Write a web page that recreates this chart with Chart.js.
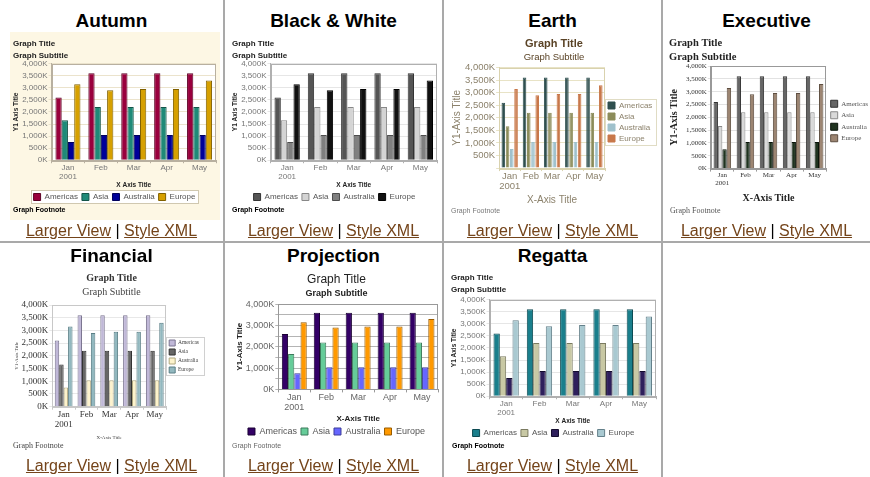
<!DOCTYPE html>
<html>
<head>
<meta charset="utf-8">
<script src="https://cdn.jsdelivr.net/npm/chart.js@4.4.0/dist/chart.umd.min.js"></script>
<style>
  body { margin: 0; width: 870px; height: 477px; background: #fff; position: relative; overflow: hidden;
         font-family: "Liberation Sans", Arial, sans-serif; }
  .head { position: absolute; text-align: center; font-weight: bold; font-size: 19px; color: #000; }
  .links { position: absolute; text-align: center; font-size: 16px; color: #000; white-space: nowrap; }
  .links a { color: #74441a; text-decoration: underline; }
  .foot { position: absolute; font-size: 7px; white-space: nowrap; }
  .box { position: absolute; }
  canvas { position: absolute; }
  .vl, .hl { position: absolute; background: #a9a9a9; }
</style>
</head>
<body>

<div class="hl" style="left:0;top:241px;width:870px;height:2px"></div>
<div class="vl" style="left:223px;top:0;width:2px;height:477px"></div>
<div class="vl" style="left:442px;top:0;width:2px;height:477px"></div>
<div class="vl" style="left:661px;top:0;width:2px;height:477px"></div>

<!-- Autumn -->
<div class="box" style="left:10px;top:32px;width:210px;height:188px;background:#fdf7e4"></div>
<div class="head" style="left:0;top:10px;width:223px">Autumn</div>
<canvas id="autumn" width="210" height="176" style="left:10px;top:35px"></canvas>
<div class="foot" style="left:13px;top:206px;font-weight:bold">Graph Footnote</div>
<div class="links" style="left:0;top:222px;width:223px"><a>Larger View</a> | <a>Style XML</a></div>

<!-- Black & White -->
<div class="head" style="left:225px;top:10px;width:217px">Black &amp; White</div>
<canvas id="bw" width="212" height="176" style="left:229px;top:35px"></canvas>
<div class="foot" style="left:232px;top:206px;font-weight:bold">Graph Footnote</div>
<div class="links" style="left:225px;top:222px;width:217px"><a>Larger View</a> | <a>Style XML</a></div>

<!-- Earth -->
<div class="head" style="left:444px;top:10px;width:217px">Earth</div>
<canvas id="earth" width="213" height="171" style="left:447px;top:35px"></canvas>
<div class="foot" style="left:451px;top:207px;color:#777">Graph Footnote</div>
<div class="links" style="left:444px;top:222px;width:217px"><a>Larger View</a> | <a>Style XML</a></div>

<!-- Executive -->
<div class="head" style="left:663px;top:10px;width:207px">Executive</div>
<canvas id="executive" width="212" height="171" style="left:666px;top:35px"></canvas>
<div class="foot" style="left:670px;top:206px;font-size:8px;color:#555;font-family:'Liberation Serif',serif">Graph Footnote</div>
<div class="links" style="left:663px;top:222px;width:207px"><a>Larger View</a> | <a>Style XML</a></div>

<!-- Financial -->
<div class="head" style="left:0;top:245px;width:223px">Financial</div>
<canvas id="financial" width="206" height="169" style="left:6px;top:271px"></canvas>
<div class="foot" style="left:13px;top:441px;font-size:8px;color:#444;font-family:'Liberation Serif',serif">Graph Footnote</div>
<div class="links" style="left:0;top:457px;width:223px"><a>Larger View</a> | <a>Style XML</a></div>

<!-- Projection -->
<div class="head" style="left:225px;top:245px;width:217px">Projection</div>
<canvas id="projection" width="214" height="175" style="left:228px;top:271px"></canvas>
<div class="foot" style="left:232px;top:442px;color:#666">Graph Footnote</div>
<div class="links" style="left:225px;top:457px;width:217px"><a>Larger View</a> | <a>Style XML</a></div>

<!-- Regatta -->
<div class="head" style="left:444px;top:245px;width:217px">Regatta</div>
<canvas id="regatta" width="212" height="178" style="left:448px;top:269px"></canvas>
<div class="foot" style="left:452px;top:442px;font-weight:bold">Graph Footnote</div>
<div class="links" style="left:444px;top:457px;width:217px"><a>Larger View</a> | <a>Style XML</a></div>

<script>
// chart data (values in thousands)
const categories = [["Jan", "2001"], "Feb", "Mar", "Apr", "May"];
const seriesNames = ["Americas", "Asia", "Australia", "Europe"];
const americas = [2600, 3600, 3600, 3600, 3600];
const asia = [1660, 2200, 2200, 2200, 2200];
const australia = [760, 1040, 1040, 1040, 1040];
const europe = [3150, 2900, 2950, 2950, 3300];
const yMin = 0;
const yMax = 4000;
const yStep = 500;

const SANS = "'Liberation Sans', Arial, sans-serif";
const SERIF = "'Liberation Serif', 'Times New Roman', serif";

Chart.defaults.font.lineHeight = 1.1;

function fmtK(v) {
  return v.toLocaleString("en-US") + "K";
}

// plot background, plot frame and legend box
const framePlugin = {
  id: "frame",
  beforeDraw(chart, args, opts) {
    const a = chart.chartArea;
    const ctx = chart.ctx;
    ctx.save();
    if (opts.plotBg) {
      ctx.fillStyle = opts.plotBg;
      ctx.fillRect(a.left, a.top, a.right - a.left, a.bottom - a.top);
    }
    if (opts.legendBox && chart.legend && chart.legend.legendHitBoxes.length) {
      const lg = chart.legend;
      const hb = lg.legendHitBoxes;
      let x0 = Infinity, y0 = Infinity, x1 = -Infinity, y1 = -Infinity;
      hb.forEach(function(b) {
        x0 = Math.min(x0, b.left); y0 = Math.min(y0, b.top);
        x1 = Math.max(x1, b.left + b.width); y1 = Math.max(y1, b.top + b.height);
      });
      if (lg.options.position === "right") {
        x0 = lg.left + 3;
        x1 = Math.min(lg.right - 2, x1 + 3);
      }
      ctx.fillStyle = opts.legendBg || "#fff";
      ctx.fillRect(x0 - 3, y0 - 3, x1 - x0 + 6, y1 - y0 + 6);
      ctx.strokeStyle = opts.legendBox;
      ctx.lineWidth = 1;
      ctx.strokeRect(Math.round(x0 - 3) + 0.5, Math.round(y0 - 3) + 0.5, Math.round(x1 - x0 + 5), Math.round(y1 - y0 + 5));
    }
    ctx.restore();
  },
  afterDraw(chart, args, opts) {
    if (!opts.frame) return;
    const a = chart.chartArea;
    const ctx = chart.ctx;
    ctx.save();
    ctx.strokeStyle = opts.frame;
    ctx.lineWidth = 1;
    ctx.strokeRect(Math.round(a.left) + 0.5, Math.round(a.top) + 0.5, Math.round(a.right - a.left) - 1, Math.round(a.bottom - a.top));
    ctx.restore();
  }
};

function makeChart(id, t) {
  const values = [americas, asia, australia, europe];
  const chartdata = {
    labels: categories,
    datasets: seriesNames.map(function(name, i) {
      return {
        label: name,
        data: values[i],
        backgroundColor: t.colors[i],
        borderColor: t.edges[i],
        borderWidth: 1,
        categoryPercentage: t.catPct,
        barPercentage: t.barPct
      };
    })
  };

  const tickFont = { family: t.font, size: t.tickSize, lineHeight: 1.1 };

  const config = {
    type: "bar",
    data: chartdata,
    plugins: [framePlugin],
    options: {
      responsive: false,
      animation: false,
      layout: { padding: t.padding },
      plugins: {
        tooltip: { enabled: false },
        frame: { plotBg: "#fff", frame: t.frameColor, legendBox: t.legendBox, legendBg: "#fff" },
        title: {
          display: true,
          text: "Graph Title",
          align: t.titleAlign,
          color: t.titleColor,
          font: { family: t.font, size: t.titleSize, weight: t.titleWeight },
          padding: { top: 0, bottom: t.titleGap }
        },
        subtitle: {
          display: true,
          text: "Graph Subtitle",
          align: t.titleAlign,
          color: t.subColor,
          font: { family: t.font, size: t.subSize, weight: t.subWeight },
          padding: { top: 0, bottom: t.subGap }
        },
        legend: {
          position: t.legendPos,
          align: "center",
          labels: {
            boxWidth: t.legendBoxSize,
            boxHeight: t.legendBoxSize,
            padding: t.legendPad,
            color: t.legendColor,
            font: { family: t.font, size: t.legendSize }
          }
        }
      },
      scales: {
        x: {
          grid: { display: true, drawOnChartArea: false, drawTicks: true, tickLength: 3, color: t.frameColor },
          border: { display: true, color: t.frameColor },
          ticks: { color: t.tickColor, font: tickFont, padding: 0, maxRotation: 0, autoSkip: false },
          title: {
            display: true,
            text: t.xTitle,
            color: t.axisTitleColor,
            font: { family: t.font, size: t.axisTitleSize, weight: t.axisTitleWeight },
            padding: { top: t.xTitleGap, bottom: 0 }
          }
        },
        y: {
          min: yMin,
          max: yMax,
          grid: { color: t.gridColor, tickLength: 3, drawTicks: true },
          border: { display: true, color: t.frameColor },
          ticks: {
            stepSize: yStep,
            autoSkip: false,
            color: t.tickColor,
            font: tickFont,
            padding: 1,
            callback: t.tickLabel
          },
          title: {
            display: true,
            text: t.yTitle,
            color: t.axisTitleColor,
            font: { family: t.font, size: t.axisTitleSize, weight: t.axisTitleWeight },
            padding: { top: 0, bottom: t.yTitleGap }
          }
        }
      }
    }
  };
  return new Chart(document.getElementById(id), config);
}

const base = {
  font: SANS, titleAlign: "start", titleColor: "#222", titleSize: 8, titleWeight: "bold", titleGap: 4,
  subColor: "#222", subSize: 8, subWeight: "bold", subGap: 3,
  tickSize: 8, tickColor: "#777", gridColor: "#e6e6e6", frameColor: "#b0b0b0",
  xTitle: "X Axis Title", yTitle: "Y1 Axis Title", axisTitleColor: "#222", axisTitleSize: 6.5, axisTitleWeight: "bold",
  xTitleGap: 1, yTitleGap: 1, legendPos: "bottom", legendPad: 4, legendSize: 8, legendBoxSize: 7, legendColor: "#555", legendBox: null,
  catPct: 0.76, barPct: 1, padding: { left: 3, right: 4, top: 4, bottom: 0 },
  tickLabel: function(v) { return fmtK(v); }
};

makeChart("autumn", Object.assign({}, base, {
  colors: ["#99003d", "#1f8a78", "#000099", "#d6a000"],
  edges: ["#5c0024", "#135448", "#00005c", "#806000"],
  gridColor: "#ebe3cc", frameColor: "#b8b0a0", legendBox: "#d0c8b0"
}));

makeChart("bw", Object.assign({}, base, {
  colors: ["#555555", "#d4d4d4", "#808080", "#111111"],
  edges: ["#333333", "#888888", "#4d4d4d", "#000000"]
}));

makeChart("earth", Object.assign({}, base, {
  titleAlign: "center", titleColor: "#5a4326", titleSize: 11, titleGap: 2,
  subColor: "#5a4326", subSize: 9.5, subWeight: "normal", subGap: 5,
  tickSize: 9.5, tickColor: "#8c826c", gridColor: "#e8e3c6", frameColor: "#d9d2ae",
  xTitle: "X-Axis Title", yTitle: "Y1-Axis Title", axisTitleColor: "#8c826c", axisTitleSize: 10, axisTitleWeight: "normal",
  xTitleGap: 3, legendPos: "right", legendPad: 3, legendSize: 8, legendColor: "#8c826c", legendBox: "#e0dcc4",
  catPct: 0.8, barPct: 0.85, padding: { left: 5, right: 4, top: 3, bottom: 0 },
  colors: ["#2f4f4f", "#8c8c5a", "#9fc1cc", "#c8784a"],
  edges: ["#2f4f4f", "#8c8c5a", "#9fc1cc", "#c8784a"],
  tickLabel: function(v) { return v === 0 ? "" : fmtK(v); }
}));

makeChart("executive", Object.assign({}, base, {
  font: SERIF, titleSize: 10.5, titleColor: "#222", subSize: 10.5, subColor: "#222", titleGap: 2, subGap: 3,
  tickSize: 7, tickColor: "#333", gridColor: "#e2e2e2", frameColor: "#999",
  xTitle: "X-Axis Title", yTitle: "Y1-Axis Title", axisTitleColor: "#222", axisTitleSize: 10, axisTitleWeight: "bold",
  xTitleGap: 6, yTitleGap: 5, legendPos: "right", legendPad: 4.5, legendSize: 7, legendColor: "#555",
  catPct: 0.76, barPct: 1, padding: { left: 3, right: 0, top: 3, bottom: 2 },
  colors: ["#666666", "#d9d9d9", "#1f331f", "#9c8572"],
  edges: ["#333333", "#888888", "#0a140a", "#5e4e40"]
}));

makeChart("financial", Object.assign({}, base, {
  font: SERIF, titleAlign: "center", titleSize: 10, titleColor: "#333", subSize: 10, subWeight: "normal", subColor: "#444",
  titleGap: 3, subGap: 7,
  tickSize: 9, tickColor: "#333", gridColor: "#e8e8e8", frameColor: "#c8c8c8",
  xTitle: "X-Axis Title", yTitle: "Y1-Axis Title", axisTitleColor: "#444", axisTitleSize: 5, axisTitleWeight: "normal",
  xTitleGap: 5, legendPos: "right", legendPad: 3, legendSize: 5.5, legendBoxSize: 6, legendColor: "#444", legendBox: "#d0d0d0",
  catPct: 0.78, barPct: 1, padding: { left: 8, right: 3, top: 2, bottom: 0 },
  colors: ["#c0b8d8", "#666666", "#fdf3cc", "#92b8bf"],
  edges: ["#7a7490", "#333333", "#b0a880", "#5a7f86"]
}));

makeChart("projection", Object.assign({}, base, {
  titleAlign: "center", titleSize: 12, titleWeight: "normal", titleColor: "#222", titleGap: 2,
  subSize: 9, subColor: "#222", subGap: 6,
  tickSize: 9, tickColor: "#666", gridColor: "#b4b4b4", frameColor: "#999",
  xTitle: "X-Axis Title", yTitle: "Y1-Axis Title", axisTitleColor: "#222", axisTitleSize: 8, axisTitleWeight: "bold",
  xTitleGap: 2, legendPos: "bottom", legendPad: 4, legendSize: 9, legendColor: "#555",
  catPct: 0.78, barPct: 1, padding: { left: 7, right: 4, top: 2, bottom: 0 },
  colors: ["#330066", "#66cc99", "#6666ff", "#ff9900"],
  edges: ["#1a0033", "#3d7a5c", "#3d3d99", "#995c00"],
  tickLabel: function(v) { return v % 1000 === 0 ? fmtK(v) : ""; }
}));

makeChart("regatta", Object.assign({}, base, {
  subGap: 5,
  colors: ["#1a7f8c", "#c8c8a4", "#2e1f5c", "#a9c9d1"],
  edges: ["#0d4a52", "#7a7a60", "#140c2e", "#64808a"]
}));
</script>
</body>
</html>
